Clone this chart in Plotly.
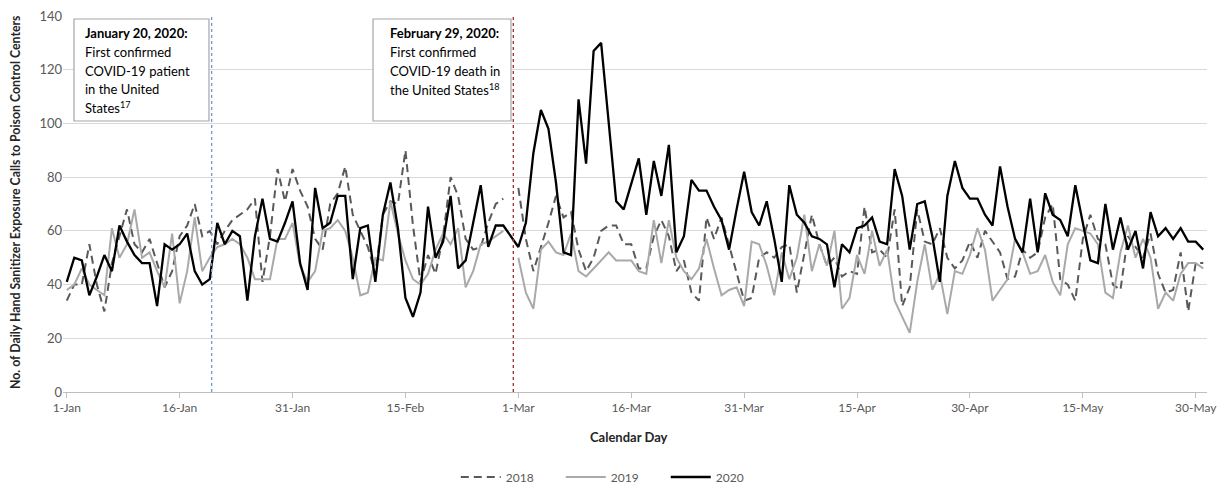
import pandas as pd
import plotly.graph_objects as go

# Calendar days (2020 calendar, Jan 1 - May 31)
dates = pd.date_range("2020-01-01", "2020-05-31", freq="D")

calls_2020 = [41, 50, 49, 36, 43, 51, 45, 62, 56, 51, 48, 48, 32, 55, 53, 55, 59, 45, 40, 42, 63,
              55, 60, 58, 34, 58, 72, 57, 56, 63, 71, 48, 38, 76, 61, 63, 73, 73, 42, 61, 62, 41,
              66, 78, 61, 35, 28, 37, 69, 50, 56, 73, 46, 49, 63, 77, 54, 62, 62,
              58,
              54, 63, 89, 105, 98, 78, 52, 51, 109, 85, 127, 130, 100, 71, 68, 78, 87, 66, 86, 73, 92, 52,
              58, 79, 75, 75, 69, 64, 53, 68, 82, 67, 62, 71, 57, 41, 77, 66, 63, 58, 57, 55, 39, 55, 52,
              61, 62, 65, 56, 55, 83, 73, 53, 70, 71, 58, 41, 73, 86, 76, 72, 72, 66, 62, 84, 69,
              57, 52, 72, 52, 74, 66, 64, 58, 77, 63, 49, 48, 70, 53, 65, 53, 60, 46, 67, 58, 61, 57, 61, 56, 56, 53]

calls_2019 = [38, 40, 46, 40, 38, 36, 61, 50, 55, 68, 50, 52, 45, 39, 59, 33, 45, 65, 45, 50, 54,
              55, 57, 55, 50, 42, 42, 42, 57, 57, 63, 47, 41, 45, 60, 61, 64, 60, 50, 36, 37,
              50, 49, 71, 59, 49, 42, 40, 44, 53, 59, 55, 61, 39, 45, 55, 56, 58, 60,
              None,
              50, 37, 31, 53, 56, 52, 51, 59, 45, 43, 46, 49, 52, 49, 49, 49, 45, 44, 64, 48, 64, 50, 45,
              42, 46, 57, 46, 36, 38, 39, 32, 56, 55, 47, 36, 52, 42, 50, 66, 45, 55, 47, 60,
              31, 35, 51, 44, 60, 47, 53, 34, 28, 22, 41, 55, 38, 44, 29, 45, 44, 51, 61, 53, 34,
              38, 42, 57, 52, 44, 45, 51, 41, 36, 55, 61, 60, 59, 55, 37, 35, 52, 62, 50, 57, 50, 31, 37, 34, 44, 48, 48, 46]

calls_2018 = [34, 40, 40, 55, 40, 30, 48, 58, 68, 55, 52, 57, 48, 39, 45, 58, 62, 70, 58, 60, 55,
              60, 64, 66, 68, 72, 41, 58, 83, 71, 83, 75, 69, 57, 53, 70, 74, 84, 66, 60, 54,
              44, 66, 71, 70, 90, 62, 41, 51, 44, 58, 80, 73, 57, 53, 54, 63, 70, 72,
              None,
              76, 57, 45, 54, 63, 73, 65, 67, 53, 45, 50, 60, 62, 62, 55, 55, 46, 46, 58, 64, 58, 45,
              49, 37, 34, 65, 57, 65, 55, 45, 34, 35, 50, 52, 50, 54, 55, 37, 52, 66, 55, 47, 50, 43, 45,
              44, 69, 52, 53, 50, 68, 32, 39, 68, 56, 55, 61, 50, 46, 49, 56, 50, 60, 56,
              52, 42, 43, 53, 50, 52, 65, 70, 42, 40, 34, 57, 66, 57, 55, 40, 38, 58, 54, 50, 59, 44, 37, 38, 52, 30, 48, 48]

tick_dates = ["2020-01-01", "2020-01-16", "2020-01-31", "2020-02-15", "2020-03-01", "2020-03-16",
              "2020-03-31", "2020-04-15", "2020-04-30", "2020-05-15", "2020-05-30"]
tick_labels = ["1-Jan", "16-Jan", "31-Jan", "15-Feb", "1-Mar", "16-Mar",
               "31-Mar", "15-Apr", "30-Apr", "15-May", "30-May"]

event1_date = "2020-01-20 06:00"
event2_date = "2020-02-29 08:00"
event1_lines = ["<b>January 20, 2020:</b>", "First confirmed", "COVID-19 patient", "in the United",
                "States<sup>17</sup>"]
event2_lines = ["<b>February 29, 2020:</b>", "First confirmed", "COVID-19 death in",
                "the United States<sup>18</sup>"]

FONT = "Lato, 'Open Sans', sans-serif"
GREY = "#595959"

fig = go.Figure()
fig.add_trace(go.Scatter(x=dates, y=calls_2018, name="2018", mode="lines",
                         line=dict(color="#595959", width=2, dash="8px,5px"), connectgaps=False))
fig.add_trace(go.Scatter(x=dates, y=calls_2019, name="2019", mode="lines",
                         line=dict(color="#a9a9a9", width=2), connectgaps=False))
fig.add_trace(go.Scatter(x=dates, y=calls_2020, name="2020", mode="lines",
                         line=dict(color="#000000", width=2.3)))

# event lines
fig.add_shape(type="line", x0=event1_date, x1=event1_date, y0=0, y1=1, xref="x", yref="paper",
              line=dict(color="#6a96e0", width=1.3, dash="3px,3px"))
fig.add_shape(type="line", x0=event2_date, x1=event2_date, y0=0, y1=1, xref="x", yref="paper",
              line=dict(color="#a52a2a", width=1.3, dash="3px,3px"))

# annotation boxes
fig.add_shape(type="rect", xref="paper", yref="paper", x0=0.0096, x1=0.1276, y0=0.7207, y1=0.992,
              line=dict(color="#a6a6a6", width=1.2), fillcolor="white")
fig.add_shape(type="rect", xref="paper", yref="paper", x0=0.271, x1=0.3916, y0=0.7207, y1=0.992,
              line=dict(color="#a6a6a6", width=1.2), fillcolor="white")

line_px = [33, 52, 71, 89, 108]
for lines, xpx in ((event1_lines, 83), (event2_lines, 388)):
    for txt, ypx in zip(lines, line_px):
        fig.add_annotation(text=txt, xref="paper", yref="paper", x=(xpx - 63) / 1144,
                           y=(392 - ypx) / 376, xanchor="left", yanchor="middle", showarrow=False,
                           font=dict(family=FONT, size=13, color="#000000"))

fig.add_annotation(text="<b>Calendar Day</b>", xref="paper", yref="paper", x=0.495, y=(392 - 437) / 376,
                   xanchor="center", yanchor="middle", showarrow=False,
                   font=dict(family=FONT, size=13, color="#262626"))
fig.add_annotation(text="<b>No. of Daily Hand Sanitizer Exposure Calls to Poison Control Centers</b>",
                   xref="paper", yref="paper", x=(15 - 63) / 1144, y=0.505, textangle=-90,
                   xanchor="center", yanchor="middle", showarrow=False,
                   font=dict(family=FONT, size=12.3, color="#262626"))

# page body has an 8px margin: figure is 8px smaller and shifted
fig.update_layout(
    width=1218, height=480,
    margin=dict(l=55, r=19, t=8, b=96, autoexpand=False),
    paper_bgcolor="white", plot_bgcolor="white",
    font=dict(family=FONT, size=12, color=GREY),
    legend=dict(orientation="h", x=0.481, y=(392 - 477) / 376, xanchor="center", yanchor="middle",
                font=dict(family=FONT, size=12, color=GREY), itemwidth=40,
                entrywidth=50, entrywidthmode="pixels"),
    showlegend=True,
)
fig.update_xaxes(range=["2019-12-31 12:00", "2020-05-31 12:00"], tickvals=tick_dates, ticktext=tick_labels,
                 showgrid=False, showline=True, linecolor="#bfbfbf", linewidth=1,
                 ticks="outside", ticklen=5, tickcolor="#bfbfbf", ticklabeloverflow="allow",
                 tickfont=dict(family=FONT, size=12, color=GREY))
fig.update_yaxes(range=[0, 140], dtick=20, showgrid=True, gridcolor="#d9d9d9", gridwidth=1,
                 zeroline=False, showline=False, ticks="", ticklabeloverflow="allow",
                 tickfont=dict(family=FONT, size=13, color=GREY))

fig.write_html("out.html")
